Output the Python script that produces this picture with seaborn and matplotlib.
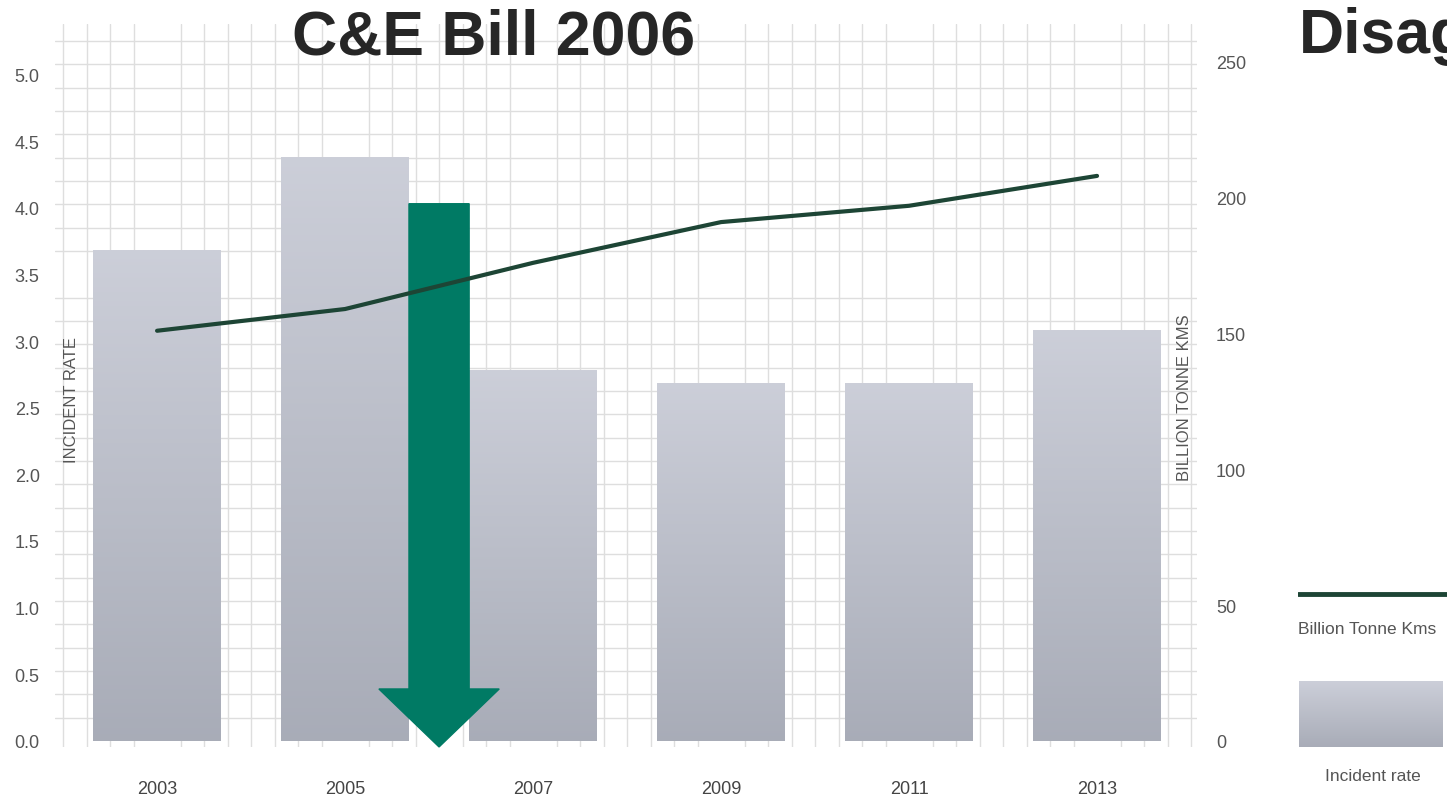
import numpy as np
import pandas as pd
import matplotlib
matplotlib.use("Agg")
import matplotlib.pyplot as plt
import seaborn as sns
from matplotlib.ticker import MultipleLocator

years = ["2003", "2005", "2007", "2009", "2011", "2013"]
incident_rate = [3.68, 4.38, 2.78, 2.68, 2.68, 3.08]
billion_tkms = [151, 159, 176, 191, 197, 208]
left_ticks = [0.0, 0.5, 1.0, 1.5, 2.0, 2.5, 3.0, 3.5, 4.0, 4.5, 5.0]
right_ticks = [0, 50, 100, 150, 200, 250]
title = "C&E Bill 2006"
side_title = "Disagg"
arrow_year_pos = 1.5
arrow_top = 4.03

sns.set_theme(style="white")
plt.rcParams['font.family'] = ['Liberation Sans', 'DejaVu Sans']

df = pd.DataFrame({"year": years, "rate": incident_rate, "tkm": billion_tkms})

fig = plt.figure(figsize=(14.47, 8.04), dpi=100)
ax = fig.add_axes([0.038, 0.0697, 0.789, 0.8995])

bar_top_c = np.array([0.80, 0.81, 0.85])
bar_bot_c = np.array([0.66, 0.675, 0.72])

sns.barplot(data=df, x="year", y="rate", ax=ax, color="#babdc8", width=0.68,
            saturation=1, zorder=2)

ax.set_xlim(-0.543, 5.53)
ax.set_ylim(-0.045, 5.38)

# gradient fill for bars
grad = np.linspace(0, 1, 256)[:, None]
cols = bar_bot_c[None, None, :] * (1 - grad[:, :, None]) + bar_top_c[None, None, :] * grad[:, :, None]
for p in ax.patches:
    x0, y0, w, h = p.get_x(), p.get_y(), p.get_width(), p.get_height()
    p.set_facecolor("none")
    p.set_edgecolor("none")
    ax.imshow(cols, extent=[x0, x0 + w, y0, y0 + h], origin="lower",
              aspect="auto", zorder=2, interpolation="bilinear")
ax.set_xlim(-0.543, 5.53)
ax.set_ylim(-0.045, 5.38)

# grid
ax.xaxis.set_minor_locator(MultipleLocator(1 / 8))
ax.yaxis.set_minor_locator(MultipleLocator(0.175))
ax.grid(which="minor", color="#dedede", linewidth=1.0, zorder=0)
ax.grid(which="major", visible=False)
ax.set_axisbelow(True)

ax.set_yticks(left_ticks)
ax.set_yticklabels([f"{v:.1f}" for v in left_ticks], fontsize=13, color="#555555")
ax.tick_params(axis="y", which="both", length=0, pad=11)
ax.tick_params(axis="x", which="both", length=0, pad=24, labelsize=13, labelcolor="#444444")
ax.set_xlabel("")
ax.set_ylabel("")
for s in ax.spines.values():
    s.set_visible(False)

ax.text(0.0145, 0.481, "INCIDENT RATE", transform=ax.transAxes, rotation=90,
        ha="center", va="center", fontsize=12, color="#555555", zorder=5)

# twin axis for line
ax2 = ax.twinx()
sns.lineplot(x=np.arange(len(years)), y=billion_tkms, ax=ax2, color="#1d4535",
             linewidth=3, zorder=4)
ax2.set_ylim(-2.2, 264)
ax2.set_yticks(right_ticks)
ax2.set_yticklabels([str(v) for v in right_ticks], fontsize=13, color="#555555")
ax2.tick_params(axis="y", which="both", length=0, pad=14)
ax2.grid(False)
for s in ax2.spines.values():
    s.set_visible(False)
ax2.set_ylabel("")
ax2.text(0.9895, 0.485, "BILLION TONNE KMS", transform=ax.transAxes, rotation=90,
         ha="center", va="center", fontsize=12, color="#555555", zorder=5)

# arrow
ax2.set_zorder(ax.get_zorder() + 1)
ax2.patch.set_visible(False)
ax.arrow(arrow_year_pos, arrow_top, 0, -(arrow_top + 0.045), width=0.32,
         head_width=0.64, head_length=0.435, length_includes_head=True,
         color="#007a64", zorder=6, clip_on=False)

# titles
fig.text(494 / 1447, 1 - 38 / 804, title, ha="center", va="center",
         fontsize=45, fontweight="bold", color="#262626")
fig.text(1299 / 1447, 1 - 36 / 804, side_title, ha="left", va="center",
         fontsize=45, fontweight="bold", color="#262626")

# legend (manual)
legax = fig.add_axes([1298 / 1447, 0, 149 / 1447, 1])
legax.set_xlim(0, 1)
legax.set_ylim(0, 804)
legax.axis("off")
legax.plot([0, 1], [804 - 595, 804 - 595], color="#1d4535", linewidth=3.5)
legax.text(0.0, 804 - 630, "Billion Tonne Kms", ha="left", va="center",
           fontsize=12.5, color="#555555")
legax.imshow(cols, extent=[0.01, 0.97, 804 - 748, 804 - 682], origin="lower",
             aspect="auto", interpolation="bilinear")
legax.set_xlim(0, 1)
legax.set_ylim(0, 804)
legax.text(0.5, 804 - 777, "Incident rate", ha="center", va="center",
           fontsize=12.5, color="#555555")

fig.savefig("out.png", dpi=100)
